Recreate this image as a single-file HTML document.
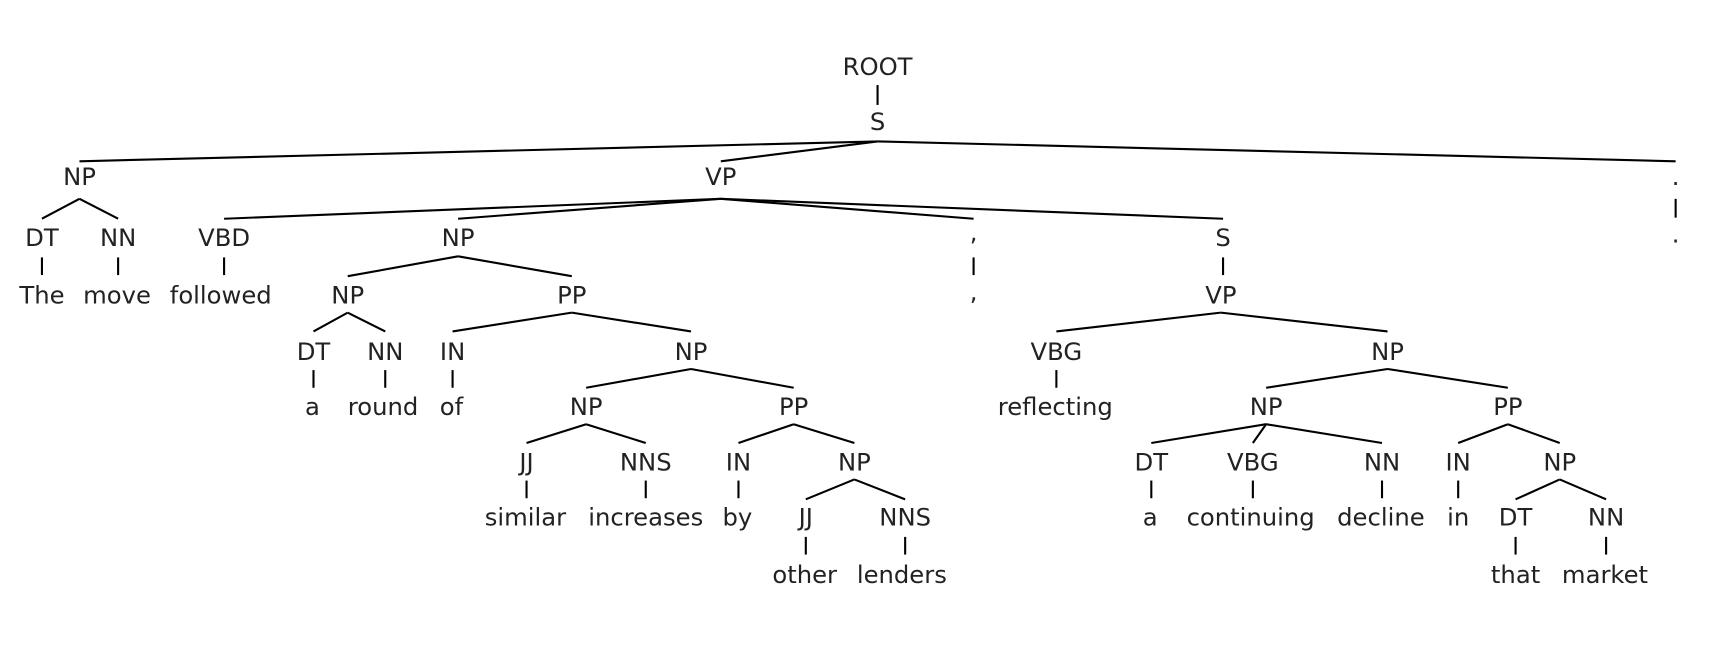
<!DOCTYPE html>
<html><head><meta charset="utf-8"><style>
html,body{margin:0;padding:0;background:#fff;}
svg{display:block}
text{font-family:"DejaVu Sans","Liberation Sans",sans-serif;font-size:22px;fill:#222;text-anchor:middle;dominant-baseline:central}
line{stroke:#000;stroke-width:1.9}
</style></head><body>
<svg width="1722" height="654" viewBox="0 0 1560 592" preserveAspectRatio="none" xmlns="http://www.w3.org/2000/svg">
<g>
<text x="795" y="60">ROOT</text>
<line x1="795" y1="77" x2="795" y2="95"/>
<text x="795" y="110">S</text>
<line x1="795" y1="128" x2="72" y2="146"/>
<line x1="795" y1="128" x2="653" y2="146"/>
<line x1="795" y1="128" x2="1518" y2="146"/>
<text x="72" y="160">NP</text>
<text x="653" y="160">VP</text>
<text x="1518" y="160">.</text>
<line x1="1518" y1="180" x2="1518" y2="197"/>
<text x="1518" y="212">.</text>

<line x1="72" y1="180" x2="38" y2="198"/>
<line x1="72" y1="180" x2="107" y2="198"/>
<text x="38" y="215">DT</text><text x="107" y="215">NN</text>
<line x1="38" y1="233" x2="38" y2="249"/><line x1="107" y1="233" x2="107" y2="249"/>
<text x="38" y="267">The</text><text x="106" y="267">move</text>

<line x1="653" y1="180" x2="203" y2="198"/>
<line x1="653" y1="180" x2="415" y2="198"/>
<line x1="653" y1="180" x2="882" y2="198"/>
<line x1="653" y1="180" x2="1108" y2="198"/>
<text x="203" y="215">VBD</text><text x="415" y="215">NP</text>
<text x="882" y="210">,</text><text x="1108" y="215">S</text>
<line x1="203" y1="233" x2="203" y2="249"/>
<text x="200" y="267">followed</text>
<line x1="882" y1="233" x2="882" y2="249"/>
<text x="882" y="264">,</text>
<line x1="1108" y1="233" x2="1108" y2="249"/>
<text x="1106" y="267">VP</text>

<line x1="415" y1="232" x2="315" y2="250"/>
<line x1="415" y1="232" x2="518" y2="250"/>
<text x="315" y="267">NP</text><text x="518" y="267">PP</text>
<line x1="315" y1="283" x2="284" y2="300"/>
<line x1="315" y1="283" x2="349" y2="300"/>
<text x="284" y="318">DT</text><text x="349" y="318">NN</text>
<line x1="284" y1="335" x2="284" y2="351"/><line x1="349" y1="335" x2="349" y2="351"/>
<text x="283" y="368">a</text><text x="347" y="368">round</text>

<line x1="518" y1="283" x2="410" y2="300"/>
<line x1="518" y1="283" x2="626" y2="300"/>
<text x="410" y="318">IN</text><text x="626" y="318">NP</text>
<line x1="410" y1="335" x2="410" y2="351"/>
<text x="409" y="368">of</text>
<line x1="626" y1="334" x2="531" y2="351"/>
<line x1="626" y1="334" x2="719" y2="351"/>
<text x="531" y="368">NP</text><text x="719" y="368">PP</text>
<line x1="531" y1="384" x2="477" y2="401"/>
<line x1="531" y1="384" x2="585" y2="401"/>
<text x="477" y="418">JJ</text><text x="585" y="418">NNS</text>
<line x1="477" y1="435" x2="477" y2="451"/><line x1="585" y1="435" x2="585" y2="451"/>
<text x="476" y="468">similar</text><text x="585" y="468">increases</text>
<line x1="719" y1="384" x2="669" y2="401"/>
<line x1="719" y1="384" x2="774" y2="401"/>
<text x="669" y="418">IN</text><text x="774" y="418">NP</text>
<line x1="669" y1="435" x2="669" y2="451"/>
<text x="668" y="468">by</text>
<line x1="774" y1="434" x2="730" y2="452"/>
<line x1="774" y1="434" x2="820" y2="452"/>
<text x="730" y="468">JJ</text><text x="820" y="468">NNS</text>
<line x1="730" y1="486" x2="730" y2="502"/><line x1="820" y1="486" x2="820" y2="502"/>
<text x="729" y="520">other</text><text x="817" y="520">lenders</text>

<line x1="1106" y1="283" x2="957" y2="300"/>
<line x1="1106" y1="283" x2="1257" y2="300"/>
<text x="957" y="318">VBG</text><text x="1257" y="318">NP</text>
<line x1="957" y1="335" x2="957" y2="351"/>
<text x="956" y="368">reflecting</text>
<line x1="1257" y1="334" x2="1147" y2="351"/>
<line x1="1257" y1="334" x2="1366" y2="351"/>
<text x="1147" y="368">NP</text><text x="1366" y="368">PP</text>
<line x1="1147" y1="384" x2="1043" y2="401"/>
<line x1="1147" y1="384" x2="1135" y2="401"/>
<line x1="1147" y1="384" x2="1252" y2="401"/>
<text x="1043" y="418">DT</text><text x="1135" y="418">VBG</text><text x="1252" y="418">NN</text>
<line x1="1043" y1="435" x2="1043" y2="451"/><line x1="1135" y1="435" x2="1135" y2="451"/><line x1="1252" y1="435" x2="1252" y2="451"/>
<text x="1042" y="468">a</text><text x="1133" y="468">continuing</text><text x="1251" y="468">decline</text>
<line x1="1366" y1="384" x2="1321" y2="401"/>
<line x1="1366" y1="384" x2="1413" y2="401"/>
<text x="1321" y="418">IN</text><text x="1413" y="418">NP</text>
<line x1="1321" y1="435" x2="1321" y2="451"/>
<text x="1321" y="468">in</text>
<line x1="1413" y1="434" x2="1373" y2="452"/>
<line x1="1413" y1="434" x2="1455" y2="452"/>
<text x="1373" y="468">DT</text><text x="1455" y="468">NN</text>
<line x1="1373" y1="486" x2="1373" y2="502"/><line x1="1455" y1="486" x2="1455" y2="502"/>
<text x="1373" y="520">that</text><text x="1454" y="520">market</text>
</g>
</svg>
</body></html>
